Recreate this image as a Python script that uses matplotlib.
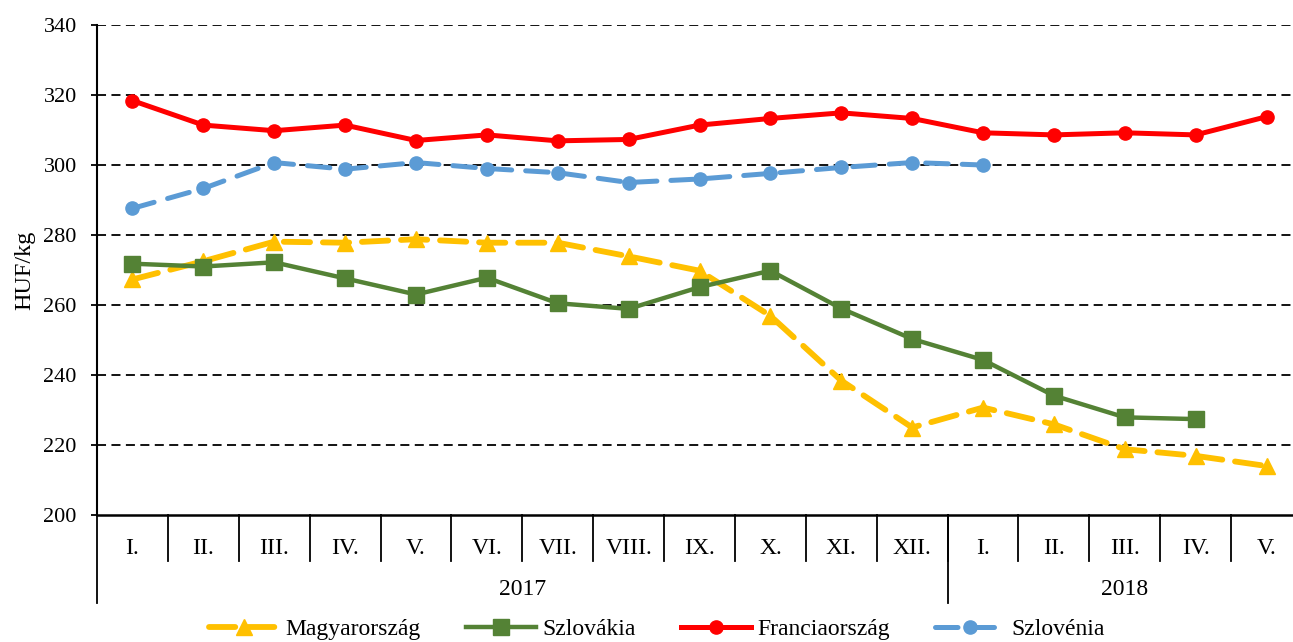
import numpy as np
import matplotlib
matplotlib.use("Agg")
import matplotlib.pyplot as plt
import matplotlib.transforms as mtransforms

plt.rcParams['font.family'] = ['Liberation Serif', 'DejaVu Serif']

# month labels (2017 I.-XII., 2018 I.-V.)
months = ["I.", "II.", "III.", "IV.", "V.", "VI.", "VII.", "VIII.", "IX.", "X.", "XI.", "XII.",
          "I.", "II.", "III.", "IV.", "V."]
years = ["2017", "2018"]
year_len = [12, 5]

# prices, HUF/kg (None = no data)
magyar = [267.3, 272.5, 278.1, 277.8, 278.8, 277.8, 277.8, 273.9, 269.8, 256.9, 238.4, 225.0,
          230.7, 225.9, 218.8, 216.9, 214.0]
szlovakia = [271.8, 271.0, 272.2, 267.6, 263.0, 267.8, 260.5, 258.9, 265.1, 269.8, 259.0, 250.3,
             244.3, 234.1, 227.9, 227.4, None]
francia = [318.4, 311.4, 309.8, 311.4, 307.0, 308.6, 306.9, 307.3, 311.4, 313.3, 314.9, 313.3,
           309.2, 308.6, 309.2, 308.6, 313.8]
szlovenia = [287.6, 293.3, 300.7, 298.8, 300.7, 299.0, 297.8, 295.0, 296.0, 297.6, 299.3, 300.7,
             300.0, None, None, None, None]

def arr(v):
    return np.array([np.nan if x is None else x for x in v], dtype=float)

x = np.arange(len(months))

fig = plt.figure(figsize=(12.93, 6.42), dpi=100)
ax = fig.add_axes([97 / 1293, 1 - 515 / 642, (1302 - 97) / 1293, 490 / 642])

ax.plot(x, arr(magyar), color="#FFC000", lw=4.2, dashes=(4.5, 2.2), dash_capstyle="round",
        marker="^", ms=12, label="Magyarország", zorder=3)
ax.plot(x, arr(szlovakia), color="#548235", lw=3.2, marker="s", ms=11,
        label="Szlovákia", zorder=3)
ax.plot(x, arr(francia), color="#FF0000", lw=3.6, marker="o", ms=9.5,
        label="Franciaország", zorder=3)
ax.plot(x, arr(szlovenia), color="#5B9BD5", lw=3.6, dashes=(4.5, 2.8), dash_capstyle="round",
        marker="o", ms=9.5, label="Szlovénia", zorder=3)

ax.set_ylim(200, 340)
ax.set_xlim(-0.5, len(months) - 0.5)
ax.set_yticks(np.arange(200, 341, 20))
ax.set_xticks([])
ax.tick_params(axis="y", direction="out", length=4.5, width=1.3, labelsize=16, pad=10)
for yv in np.arange(220, 341, 20):
    ax.axhline(yv, color="black", lw=1.3, ls=(0, (5, 3)), zorder=1)
for s in ["top", "right"]:
    ax.spines[s].set_visible(False)
ax.spines["left"].set_linewidth(1.5)
ax.spines["bottom"].set_linewidth(1.8)
ax.set_ylabel("HUF/kg", fontsize=17.5, labelpad=6)

# two-level category axis
trans = mtransforms.blended_transform_factory(ax.transData, ax.transAxes)
for i, m in enumerate(months):
    ax.text(i, -0.068, m, transform=trans, ha="center", va="center", fontsize=17)
for b in np.arange(0.5, len(months) - 0.5, 1):
    ax.plot([b, b], [0, -0.094], transform=trans, color="black", lw=1.3, clip_on=False)
start = 0
bounds = [-0.5]
for yr, n in zip(years, year_len):
    ax.text(start + (n - 1) / 2, -0.153, yr, transform=trans, ha="center", va="center", fontsize=17)
    start += n
    bounds.append(start - 0.5)
for b in bounds[:-1]:
    ax.plot([b, b], [0, -0.18], transform=trans, color="black", lw=1.3, clip_on=False)

fig.legend(loc="lower center", bbox_to_anchor=(0.508, -0.03), ncol=4, frameon=False,
           fontsize=17, handlelength=3.0, handletextpad=0.25, columnspacing=1.9)

fig.savefig("out.png", dpi=100)
